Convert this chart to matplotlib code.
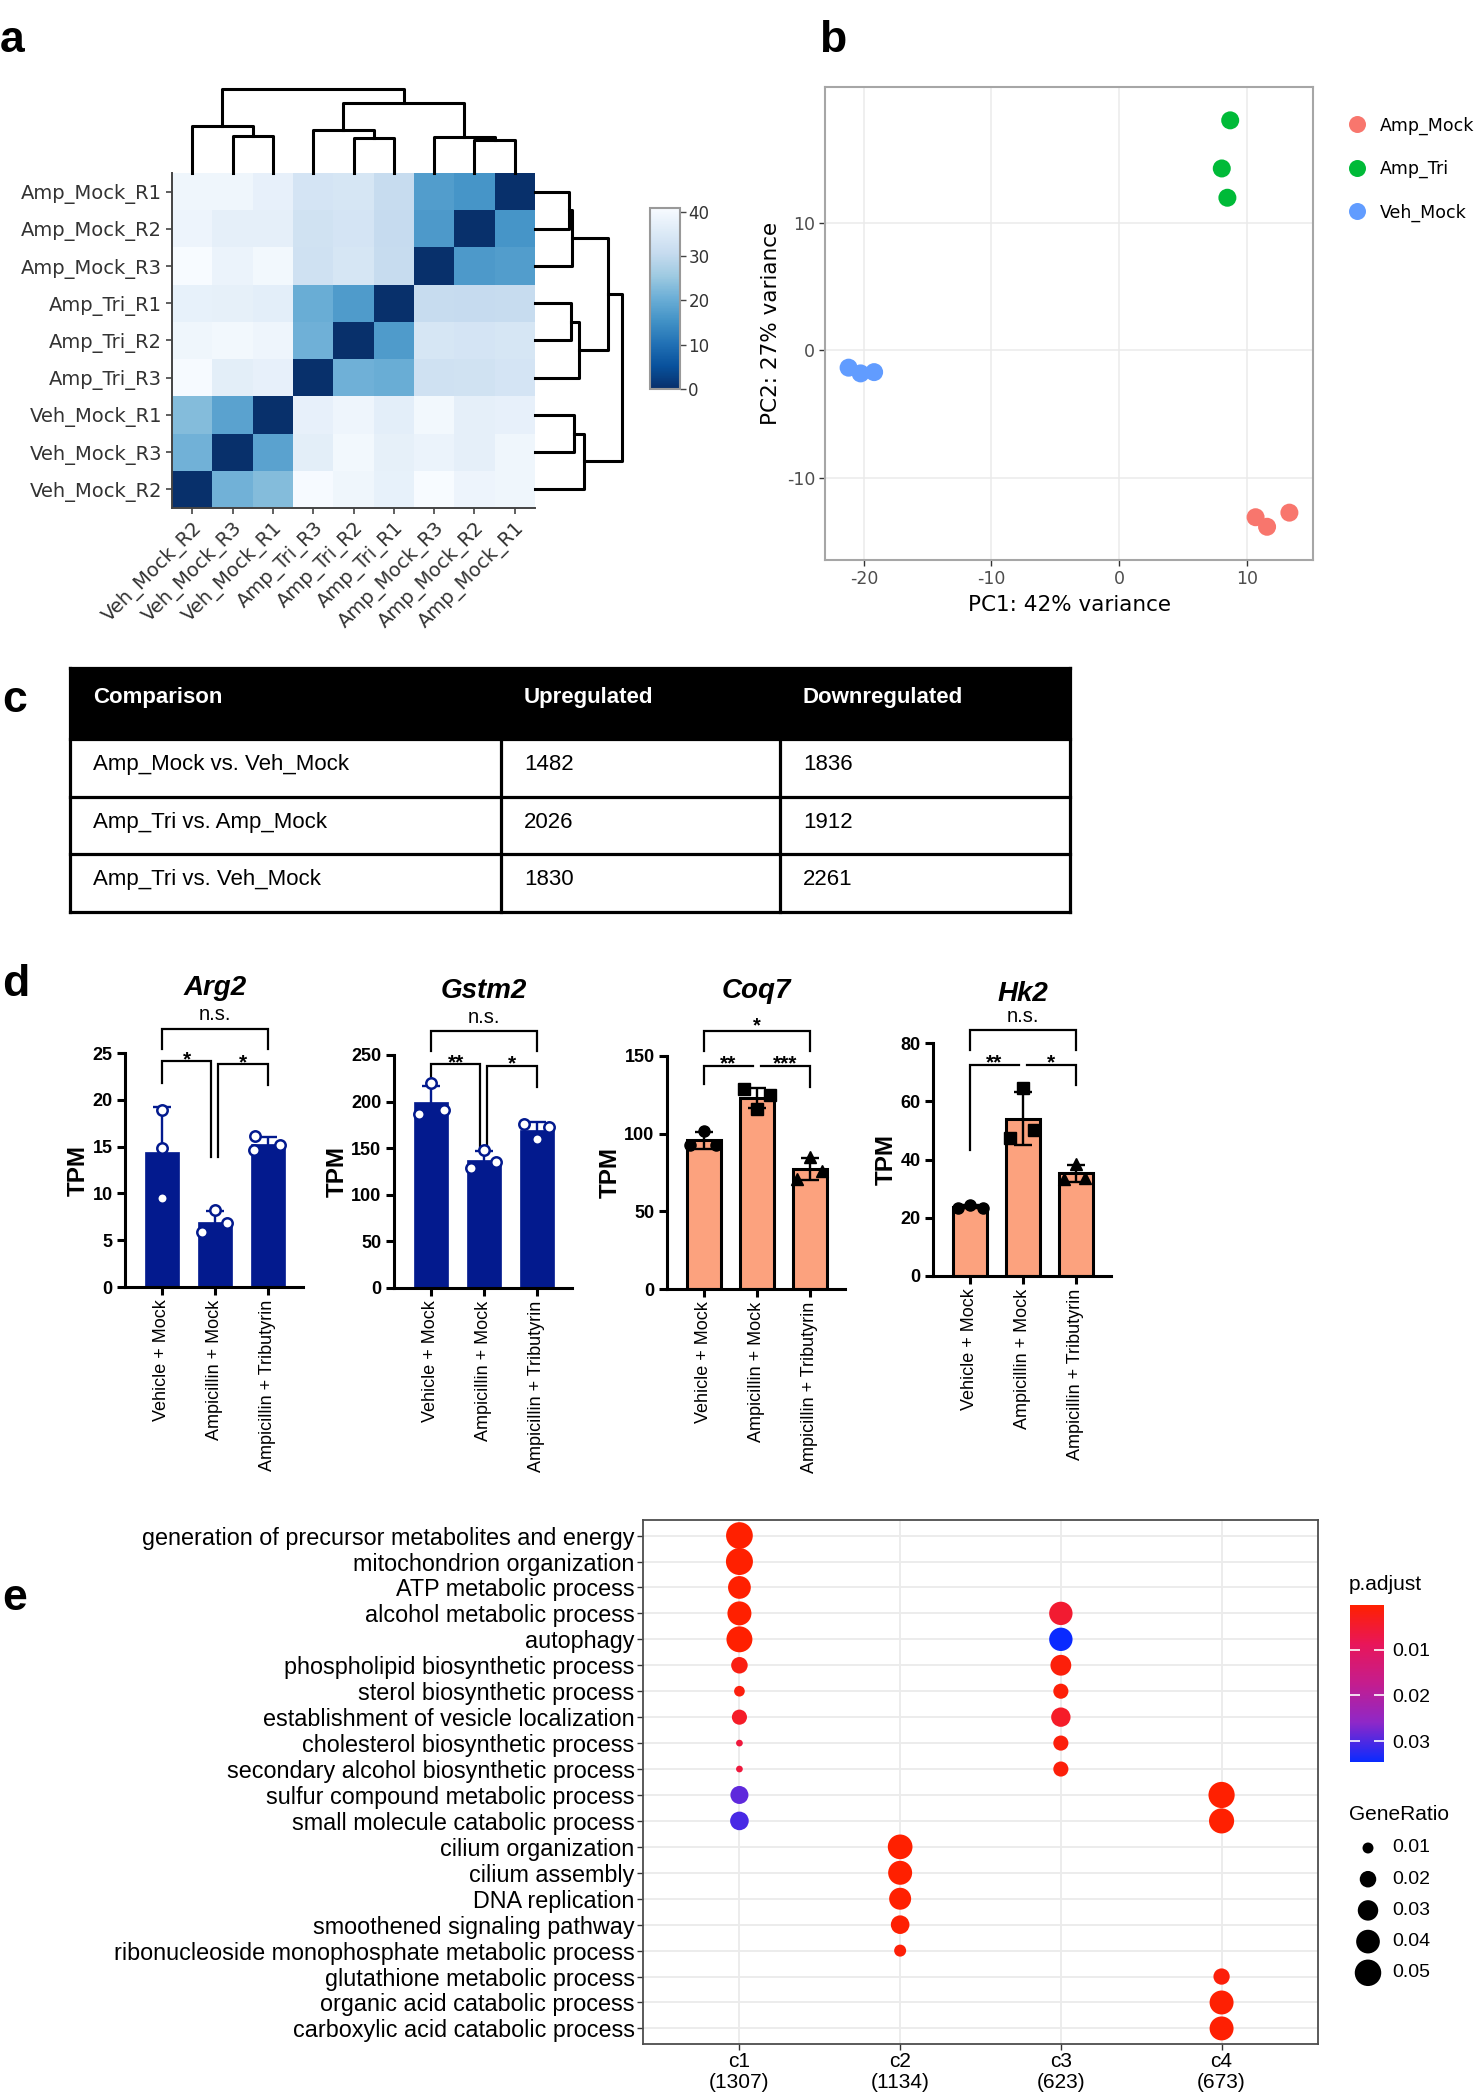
import numpy as np
import matplotlib
matplotlib.use('Agg')
import matplotlib.pyplot as plt
from matplotlib.colors import LinearSegmentedColormap, Normalize
from matplotlib.cm import ScalarMappable
from matplotlib.lines import Line2D

plt.rcParams['font.family'] = ['Liberation Sans', 'DejaVu Sans']
plt.rcParams['axes.unicode_minus'] = False

# ---------------- data ----------------
# a: sample-to-sample distances
samples = ['Amp_Mock_R1', 'Amp_Mock_R2', 'Amp_Mock_R3', 'Amp_Tri_R1', 'Amp_Tri_R2',
           'Amp_Tri_R3', 'Veh_Mock_R1', 'Veh_Mock_R2', 'Veh_Mock_R3']
sample_dist = np.array([
    [0.0, 15.9, 17.3, 30.8, 34.0, 33.5, 37.4, 39.2, 39.1],
    [15.9, 0.0, 16.6, 30.5, 33.5, 32.8, 37.0, 38.6, 37.0],
    [17.3, 16.6, 0.0, 30.8, 34.0, 32.5, 39.8, 40.8, 38.3],
    [30.8, 30.5, 30.8, 0.0, 17.0, 20.2, 36.8, 37.5, 37.2],
    [34.0, 33.5, 34.0, 17.0, 0.0, 20.8, 38.8, 39.2, 39.8],
    [33.5, 32.8, 32.5, 20.2, 20.8, 0.0, 37.3, 40.6, 36.5],
    [37.4, 37.0, 39.8, 36.8, 38.8, 37.3, 0.0, 22.8, 18.2],
    [39.2, 38.6, 40.8, 37.5, 39.2, 40.6, 22.8, 0.0, 21.0],
    [39.1, 37.0, 38.3, 37.2, 39.8, 36.5, 18.2, 21.0, 0.0],
])
row_order = ['Amp_Mock_R1', 'Amp_Mock_R2', 'Amp_Mock_R3', 'Amp_Tri_R1', 'Amp_Tri_R2',
             'Amp_Tri_R3', 'Veh_Mock_R1', 'Veh_Mock_R3', 'Veh_Mock_R2']
col_order = row_order[::-1]

# b: PCA
pca_groups = ['Amp_Mock', 'Amp_Tri', 'Veh_Mock']
pca_colors = ['#F8766D', '#00BA38', '#619CFF']
pc1_values = [[10.7, 11.6, 13.35], [8.71, 8.05, 8.49], [-21.2, -20.26, -19.2]]
pc2_values = [[-13.1, -13.85, -12.74], [18.08, 14.3, 12.0], [-1.35, -1.8, -1.7]]

# c: DEG table
deg_header = ['Comparison', 'Upregulated', 'Downregulated']
comparisons = ['Amp_Mock vs. Veh_Mock', 'Amp_Tri vs. Amp_Mock', 'Amp_Tri vs. Veh_Mock']
upregulated = [1482, 2026, 1830]
downregulated = [1836, 1912, 2261]

# d: TPM per gene, 3 replicates per group
d_groups = ['Vehicle + Mock', 'Ampicillin + Mock', 'Ampicillin + Tributyrin']
d_genes = ['Arg2', 'Gstm2', 'Coq7', 'Hk2']
arg2_tpm = [[18.95, 14.9, 9.56], [8.2, 5.9, 6.8], [16.1, 14.6, 15.2]]
gstm2_tpm = [[219.6, 187.0, 190.6], [148.5, 129.0, 135.0], [176.0, 160.0, 173.0]]
coq7_tpm = [[102.0, 92.6, 92.6], [128.6, 115.8, 124.6], [85.0, 71.0, 76.0]]
hk2_tpm = [[24.4, 23.5, 23.5], [64.4, 47.5, 50.2], [38.6, 33.2, 33.8]]
arg2_jitter = [[0, 0, 0], [0, -0.25, 0.24], [-0.24, -0.25, 0.24]]
gstm2_jitter = [[0, -0.23, 0.25], [0, -0.24, 0.24], [-0.23, 0, 0.24]]
coq7_jitter = [[0, -0.26, 0.23], [-0.24, 0, 0.25], [0, -0.23, 0.23]]
hk2_jitter = [[0, -0.23, 0.25], [0, -0.24, 0.22], [0, -0.22, 0.17]]
d_ymax = [25, 250, 150, 80]
d_ystep = [5, 50, 50, 20]
d_sig = [['n.s.', '*', '*'], ['n.s.', '**', '*'], ['*', '**', '***'], ['n.s.', '**', '*']]

# e: GO enrichment dot plot
go_terms = ['generation of precursor metabolites and energy', 'mitochondrion organization',
            'ATP metabolic process', 'alcohol metabolic process', 'autophagy',
            'phospholipid biosynthetic process', 'sterol biosynthetic process',
            'establishment of vesicle localization', 'cholesterol biosynthetic process',
            'secondary alcohol biosynthetic process', 'sulfur compound metabolic process',
            'small molecule catabolic process', 'cilium organization', 'cilium assembly',
            'DNA replication', 'smoothened signaling pathway',
            'ribonucleoside monophosphate metabolic process', 'glutathione metabolic process',
            'organic acid catabolic process', 'carboxylic acid catabolic process']
cluster_labels = ['c1\n(1307)', 'c2\n(1134)', 'c3\n(623)', 'c4\n(673)']
e_row = [0, 1, 2, 3, 4, 5, 6, 7, 8, 9, 10, 11,
         12, 13, 14, 15, 16,
         3, 4, 5, 6, 7, 8, 9,
         10, 11, 17, 18, 19]
e_cluster = [0, 0, 0, 0, 0, 0, 0, 0, 0, 0, 0, 0,
             1, 1, 1, 1, 1,
             2, 2, 2, 2, 2, 2, 2,
             3, 3, 3, 3, 3]
e_ratio = [0.051, 0.052, 0.037, 0.041, 0.048, 0.020, 0.0096, 0.017, 0.0056, 0.0056, 0.0235, 0.025,
           0.0435, 0.041, 0.0345, 0.025, 0.0115,
           0.039, 0.039, 0.031, 0.017, 0.027, 0.017, 0.017,
           0.049, 0.045, 0.0195, 0.041, 0.041]
e_padj = [0.0002, 0.0003, 0.0004, 0.0003, 0.0004, 0.002, 0.0015, 0.004, 0.006, 0.006, 0.029, 0.0305,
          0.0003, 0.0003, 0.0004, 0.0006, 0.001,
          0.005, 0.0346, 0.0012, 0.001, 0.004, 0.0012, 0.0012,
          0.0004, 0.0004, 0.0012, 0.0006, 0.0006]
ratio_legend = [0.01, 0.02, 0.03, 0.04, 0.05]

# ---------------- figure ----------------
W, H = 1476, 2100
fig = plt.figure(figsize=(W / 100, H / 100), dpi=100)
PX = 0.72  # points per pixel at dpi 100
AB_FONT = 'DejaVu Sans'


def px_axes(x0, y0, x1, y1):
    return fig.add_axes([x0 / W, 1 - y1 / H, (x1 - x0) / W, (y1 - y0) / H])


def style_ticks(ax, family, size, color='black', weight='normal'):
    for lab in ax.get_xticklabels() + ax.get_yticklabels():
        lab.set_family(family)
        lab.set_fontsize(size)
        lab.set_color(color)
        lab.set_fontweight(weight)


def panel_letter(x, y, s):
    fig.text(x / W, 1 - y / H, s, fontsize=32, fontweight='bold', ha='left', va='center')


# ---------------- a: heatmap + dendrograms ----------------
def complete_linkage(dist):
    clusters = {i: [i] for i in range(len(dist))}
    merges = []
    next_id = len(dist)
    while len(clusters) > 1:
        keys = list(clusters)
        best = None
        for a in range(len(keys)):
            for b in range(a + 1, len(keys)):
                d = max(dist[i][j] for i in clusters[keys[a]] for j in clusters[keys[b]])
                if best is None or d < best[0]:
                    best = (d, keys[a], keys[b])
        d, ka, kb = best
        clusters[next_id] = clusters.pop(ka) + clusters.pop(kb)
        merges.append((ka, kb, d, next_id))
        next_id += 1
    return merges


def draw_dendro(ax, merges, leaf_pos, horizontal=False):
    pos = dict(leaf_pos)
    hgt = {k: 0.0 for k in leaf_pos}
    for a, b, h, new in merges:
        xs = [pos[a], pos[a], pos[b], pos[b]]
        ys = [hgt[a], h, h, hgt[b]]
        if horizontal:
            ax.plot(ys, xs, color='black', lw=2.2, clip_on=False)
        else:
            ax.plot(xs, ys, color='black', lw=2.2, clip_on=False)
        pos[new] = (pos[a] + pos[b]) / 2
        hgt[new] = h
    ax.axis('off')


ri = [samples.index(s) for s in row_order]
ci = [samples.index(s) for s in col_order]
mat = sample_dist[np.ix_(ri, ci)]
vmax = sample_dist.max()

ax_hm = px_axes(172, 173, 535, 508)
im = ax_hm.pcolormesh(mat, cmap='Blues_r', vmin=0, vmax=vmax)
ax_hm.set_xlim(0, 9)
ax_hm.set_ylim(9, 0)
ax_hm.set_xticks(np.arange(9) + 0.5)
ax_hm.set_xticklabels(col_order, rotation=45, ha='right', rotation_mode='anchor')
ax_hm.set_yticks(np.arange(9) + 0.5)
ax_hm.set_yticklabels(row_order)
for side in ['top', 'right']:
    ax_hm.spines[side].set_visible(False)
for side in ['left', 'bottom']:
    ax_hm.spines[side].set_color('#444444')
    ax_hm.spines[side].set_linewidth(1.4)
ax_hm.tick_params(length=4, color='#444444', width=1.2, pad=3)
style_ticks(ax_hm, AB_FONT, 14, '#333333')

merges = complete_linkage(sample_dist)
root = merges[-1][2]
ax_top = px_axes(172, 89, 535, 173)
draw_dendro(ax_top, merges, {samples.index(s): col_order.index(s) + 0.5 for s in samples})
ax_top.set_xlim(0, 9)
ax_top.set_ylim(0, root)
ax_right = px_axes(535, 173, 622, 508)
draw_dendro(ax_right, merges, {samples.index(s): row_order.index(s) + 0.5 for s in samples},
            horizontal=True)
ax_right.set_ylim(9, 0)
ax_right.set_xlim(0, root)

cax_a = px_axes(650, 208, 680, 389)
cb_a = fig.colorbar(im, cax=cax_a, ticks=[0, 10, 20, 30, 40])
cb_a.outline.set_edgecolor('#999999')
cb_a.outline.set_linewidth(1.5)
cax_a.tick_params(length=4, color='#444444', width=1.0, pad=2)
style_ticks(cax_a, AB_FONT, 12, '#333333')

panel_letter(0, 40, 'a')

# ---------------- b: PCA ----------------
ax_b = px_axes(825, 87, 1313, 560)
for grp, col, xs, ys in zip(pca_groups, pca_colors, pc1_values, pc2_values):
    ax_b.scatter(xs, ys, s=(18 * PX) ** 2, color=col, edgecolors='none', zorder=3)
ax_b.set_xlim(-23.05, 15.2)
ax_b.set_ylim(-16.46, 20.7)
ax_b.set_xticks([-20, -10, 0, 10])
ax_b.set_yticks([-10, 0, 10])
ax_b.grid(color='#EBEBEB', lw=1.1)
ax_b.set_axisbelow(True)
for sp in ax_b.spines.values():
    sp.set_color('#A6A6A6')
    sp.set_linewidth(1.5)
ax_b.tick_params(length=4, color='#333333', width=1.0, pad=3)
style_ticks(ax_b, AB_FONT, 12.5, '#4D4D4D')
ax_b.set_xlabel('PC1: 42% variance', fontsize=15.5, family=AB_FONT, labelpad=5)
ax_b.set_ylabel('PC2: 27% variance', fontsize=15.5, family=AB_FONT, labelpad=4)
handles = [Line2D([], [], ls='none', marker='o', ms=17 * PX, color=c, mec='none')
           for c in pca_colors]
leg = ax_b.legend(handles, pca_groups, loc='center left', bbox_to_anchor=(1340 / W, 1 - 169 / H),
                  bbox_transform=fig.transFigure, frameon=False, handlelength=1.0,
                  handletextpad=0.8, labelspacing=1.45, borderpad=0,
                  prop={'family': AB_FONT, 'size': 12.5})
panel_letter(819, 40, 'b')

# ---------------- c: table ----------------
ax_c = px_axes(0, 640, W, 930)
ax_c.set_xlim(0, W)
ax_c.set_ylim(930, 640)
ax_c.axis('off')
col_edges = [70, 501, 780, 1070]
head_top, head_bot, row_h = 668, 739, 57.5
ax_c.add_patch(plt.Rectangle((col_edges[0], head_top), col_edges[-1] - col_edges[0],
                             head_bot - head_top, color='black', lw=0))
for j, txt in enumerate(deg_header):
    ax_c.text(col_edges[j] + 23, head_top + 29, txt, color='white', fontweight='bold',
              fontsize=16, ha='left', va='center')
n_rows = len(comparisons)
table_bot = head_bot + n_rows * row_h
for i in range(n_rows + 1):
    y = head_bot + i * row_h
    ax_c.plot([col_edges[0], col_edges[-1]], [y, y], color='black', lw=2.3)
for x in col_edges:
    ax_c.plot([x, x], [head_top if x in (col_edges[0], col_edges[-1]) else head_bot, table_bot],
              color='black', lw=2.3)
ax_c.plot([col_edges[0], col_edges[-1]], [head_top, head_top], color='black', lw=2.3)
for i, (cmp_, up, dn) in enumerate(zip(comparisons, upregulated, downregulated)):
    yc = head_bot + (i + 0.45) * row_h
    for j, txt in enumerate([cmp_, str(up), str(dn)]):
        ax_c.text(col_edges[j] + 23, yc, txt, fontsize=16, ha='left', va='center')
panel_letter(2, 701, 'c')

# ---------------- d: bar charts ----------------
blue_bar = '#031A8E'
orange_bar = '#FCA27E'
d_tpm = [arg2_tpm, gstm2_tpm, coq7_tpm, hk2_tpm]
d_jitter = [arg2_jitter, gstm2_jitter, coq7_jitter, hk2_jitter]
d_rects = [(125, 1053, 303, 1287), (394, 1055, 572, 1288), (667, 1056, 845, 1289),
           (933, 1043, 1111, 1276)]
# bracket layout (data units): top, top leg end, left bracket, right bracket, leg ends
brackets = [
    dict(top=27.6, top_leg=25.4, left=24.1, right=23.8, legs=(21.8, 13.9, 13.9, 21.6), mid=(0.93, 1.07)),
    dict(top=275.7, top_leg=254, left=240, right=238.6, legs=(217, 148, 148, 215.5), mid=(0.93, 1.06)),
    dict(top=165.9, top_leg=153.3, left=143.8, right=143.8, legs=(131.7, 143.8, 143.8, 130.2), mid=(0.92, 1.08)),
    dict(top=84.4, top_leg=77.6, left=72.6, right=72.6, legs=(43.2, 72.6, 72.6, 65.5), mid=(0.92, 1.08)),
]
for k, gene in enumerate(d_genes):
    ax = px_axes(*d_rects[k])
    orange = k >= 2
    fill = orange_bar if orange else blue_bar
    line_col = 'black' if orange else blue_bar
    markers = ['o', 's', '^'] if orange else ['o', 'o', 'o']
    for g, vals in enumerate(d_tpm[k]):
        m = np.mean(vals)
        sd = np.std(vals, ddof=1)
        ax.bar(g, m, width=0.64, color=fill, edgecolor=line_col if orange else fill,
               linewidth=2.2 if orange else 0.5, zorder=2)
        ax.errorbar(g, m, yerr=sd, fmt='none', ecolor=line_col, elinewidth=1.7,
                    capsize=6.5, capthick=1.7, zorder=3)
        xs = [g + dx for dx in d_jitter[k][g]]
        if orange:
            ax.plot(xs, vals, ls='none', marker=markers[g], ms=8, color='black',
                    zorder=4, clip_on=False)
        else:
            ax.plot(xs, vals, ls='none', marker='o', ms=7.5, mfc='white', mec=blue_bar,
                    mew=1.8, zorder=4, clip_on=False)
    ax.set_xlim(-0.7, 2.67)
    ax.set_ylim(0, d_ymax[k])
    ax.set_yticks(np.arange(0, d_ymax[k] + 1, d_ystep[k]))
    ax.set_xticks(range(3))
    ax.set_xticklabels(d_groups, rotation=90, fontsize=13)
    for side in ['top', 'right']:
        ax.spines[side].set_visible(False)
    for side in ['left', 'bottom']:
        ax.spines[side].set_linewidth(2.2)
    ax.tick_params(length=6, width=2.2, pad=3)
    for lab in ax.get_yticklabels():
        lab.set_fontweight('bold')
        lab.set_fontsize(13)
    ax.set_ylabel('TPM', fontsize=17.5, fontweight='bold', labelpad=2)

    br = brackets[k]
    m1, m2 = br['mid']
    lk = dict(color='black', lw=1.6, clip_on=False, solid_joinstyle='miter')
    ax.plot([0, 0, 2, 2], [br['top_leg'], br['top'], br['top'], br['top_leg']], **lk)
    ax.plot([0, 0, m1, m1], [br['legs'][0], br['left'], br['left'], br['legs'][1]], **lk)
    ax.plot([m2, m2, 2, 2], [br['legs'][2], br['right'], br['right'], br['legs'][3]], **lk)
    sig = d_sig[k]
    top_bold = 'bold' if sig[0] != 'n.s.' else 'normal'
    ax.annotate(sig[0], xy=(1, br['top']), xytext=(0, 6 if sig[0] == 'n.s.' else 0),
                textcoords='offset points', ha='center', va='baseline',
                fontsize=14.5, fontweight=top_bold, annotation_clip=False)
    ax.annotate(sig[1], xy=(m1 / 2, br['left']), xytext=(0, -3), textcoords='offset points',
                ha='center', va='baseline', fontsize=15, fontweight='bold', annotation_clip=False)
    ax.annotate(sig[2], xy=((m2 + 2) / 2, br['right']), xytext=(0, -3), textcoords='offset points',
                ha='center', va='baseline', fontsize=15, fontweight='bold', annotation_clip=False)
    ax.annotate(gene, xy=(1, br['top']), xytext=(0, 29 if k < 3 else 26), textcoords='offset points',
                ha='center', va='center', fontsize=20, fontweight='bold', fontstyle='italic',
                annotation_clip=False)
panel_letter(2, 985, 'd')

# ---------------- e: GO dot plot ----------------
p_cmap = LinearSegmentedColormap.from_list(
    'padj', [(0.0, '#FF2000'), (0.25, '#E8165A'), (0.5, '#C41D8E'), (0.75, '#8E28C8'),
             (1.0, '#0A2AFF')])
p_norm = Normalize(min(e_padj), max(e_padj))
size_limits = (0.004, 0.052)
size_range_px = (2.2, 27.0)


def ratio_to_s(r):
    r = np.asarray(r, dtype=float)
    f = np.clip((r - size_limits[0]) / (size_limits[1] - size_limits[0]), 0, 1)
    d = size_range_px[0] + (size_range_px[1] - size_range_px[0]) * np.sqrt(f)
    return (d * PX) ** 2


ax_e = px_axes(643, 1520, 1318, 2044)
ax_e.scatter(e_cluster, e_row, s=ratio_to_s(e_ratio), c=e_padj, cmap=p_cmap, norm=p_norm,
             edgecolors='none', zorder=3)
ax_e.set_xlim(-0.6, 3.6)
ax_e.set_ylim(len(go_terms) - 0.4, -0.6)
ax_e.set_xticks(range(4))
ax_e.set_xticklabels(cluster_labels, fontsize=15, linespacing=1.1)
ax_e.set_yticks(range(len(go_terms)))
ax_e.set_yticklabels(go_terms, fontsize=16.8)
ax_e.grid(color='#EBEBEB', lw=1.3)
ax_e.set_axisbelow(True)
for sp in ax_e.spines.values():
    sp.set_color('#4D4D4D')
    sp.set_linewidth(1.3)
ax_e.tick_params(length=4, color='#333333', width=1.0, pad=2)

fig.text(1349 / W, 1 - 1585 / H, 'p.adjust', fontsize=15, ha='left', va='center')
cax_e = px_axes(1350, 1605, 1384, 1762)
cb_e = fig.colorbar(ScalarMappable(norm=p_norm, cmap=p_cmap), cax=cax_e, ticks=[0.01, 0.02, 0.03])
cax_e.invert_yaxis()
cb_e.outline.set_visible(False)
cax_e.tick_params(direction='in', color='white', length=7, width=1.2, left=True, right=True,
                  labelsize=14, pad=6)
cax_e.set_yticklabels(['0.01', '0.02', '0.03'])

fig.text(1349 / W, 1 - 1814 / H, 'GeneRatio', fontsize=15, ha='left', va='center')
ax_sz = px_axes(1340, 1830, 1476, 1995)
ax_sz.set_xlim(1340, 1476)
ax_sz.set_ylim(1995, 1830)
ax_sz.axis('off')
for i, r in enumerate(ratio_legend):
    yy = 1848 + i * 31.2
    ax_sz.scatter([1368], [yy], s=ratio_to_s(r), color='black', edgecolors='none', clip_on=False)
    ax_sz.text(1392, yy, f'{r:.2f}', fontsize=14, ha='left', va='center')
panel_letter(2, 1599, 'e')

fig.savefig('out.png', dpi=100)
